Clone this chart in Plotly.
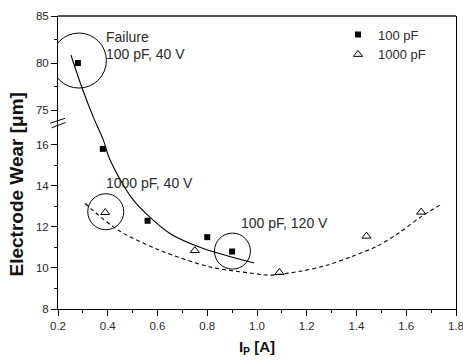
import plotly.graph_objects as go

# ---- data ----
x_100 = [0.28, 0.38, 0.56, 0.80, 0.90]
y_100 = [80.0, 15.8, 12.3, 11.5, 10.8]
x_1000 = [0.39, 0.75, 1.09, 1.44, 1.66]
y_1000 = [12.7, 10.85, 9.78, 11.55, 12.72]

fit_100_x = [0.252, 0.295, 0.342, 0.382, 0.409, 0.503, 0.65, 0.784, 0.989]
fit_100_y = [80.86, 77.48, 74.26, 16.24, 15.27, 13.3, 11.68, 10.95, 10.24]
fit_1000_x = [0.309, 0.442, 0.61, 0.811, 0.989, 1.05, 1.18, 1.28, 1.38, 1.481, 1.57, 1.66, 1.746]
fit_1000_y = [13.14, 11.84, 10.86, 10.05, 9.73, 9.65, 9.85, 10.13, 10.55, 11.05, 11.7, 12.5, 13.14]

x_major = [0.2, 0.4, 0.6, 0.8, 1.0, 1.2, 1.4, 1.6, 1.8]
x_major_labels = ["0.2", "0.4", "0.6", "0.8", "1.0", "1.2", "1.4", "1.6", "1.8"]
x_minor = [0.3, 0.5, 0.7, 0.9, 1.1, 1.3, 1.5, 1.7]
y_major = [8, 10, 12, 14, 16, 75, 80, 85]
y_minor = [9, 11, 13, 15, 77.5, 82.5]
y_major_labels = ["8", "10", "12", "14", "16", "75", "80", "85"]

# ---- broken y-scale ----
BREAK_LO, BREAK_HI, UPPER_SCALE = 17.0, 73.5, 0.4585
Y_MIN, Y_MAX = 8.0, 85.0


def fwd(v):
    return v if v <= BREAK_LO else BREAK_LO + (v - BREAK_HI) * UPPER_SCALE


def fwd_list(vals):
    return [fwd(v) for v in vals]


TXT = "#2a2a2a"
FONT = "Arial, Liberation Sans, sans-serif"
W, H = 463, 363
ML, MR, MT, MB = 58, 7, 16, 54
PW, PH = W - ML - MR, H - MT - MB


def px2paper(px, py):
    return (px - ML) / PW, (H - MB - py) / PH


fig = go.Figure()

fig.add_trace(go.Scatter(x=fit_100_x, y=fwd_list(fit_100_y), mode="lines",
                         line=dict(color="black", width=1.1, shape="spline", smoothing=0.8),
                         showlegend=False, hoverinfo="skip"))
fig.add_trace(go.Scatter(x=fit_1000_x, y=fwd_list(fit_1000_y), mode="lines",
                         line=dict(color="black", width=1.1, dash="4px,3px", shape="spline", smoothing=0.9),
                         showlegend=False, hoverinfo="skip"))
fig.add_trace(go.Scatter(x=x_100, y=fwd_list(y_100), mode="markers", name="100 pF",
                         marker=dict(symbol="square", size=6, color="black")))
fig.add_trace(go.Scatter(x=x_1000, y=fwd_list(y_1000), mode="markers", name="1000 pF",
                         marker=dict(symbol="triangle-up-open", size=8, color="black",
                                     line=dict(width=1, color="black"))))

shapes = []


def circle(xv, yv, r, dx=0.0, dy=0.0):
    return dict(type="circle", xref="x", yref="y", xsizemode="pixel", ysizemode="pixel",
                xanchor=xv, yanchor=fwd(yv), x0=dx - r, x1=dx + r, y0=dy - r, y1=dy + r,
                line=dict(color="black", width=1))


shapes.append(circle(x_100[0], y_100[0], 27.5, 1.0, 2.5))
shapes.append(circle(x_1000[0], y_1000[0], 18, 0.5, 0.8))
shapes.append(circle(x_100[4], y_100[4], 18, 0.3, 0.4))

# top frame line (grey) and axis-break marks
shapes.append(dict(type="line", xref="paper", yref="paper", x0=0, x1=1, y0=1, y1=1,
                   line=dict(color="#555555", width=2)))
for (ax, ay, bx, by) in [(50, 123.3, 65, 118.3), (51.5, 127.8, 65.5, 122.5)]:
    p0 = px2paper(ax, ay)
    p1 = px2paper(bx, by)
    shapes.append(dict(type="line", xref="paper", yref="paper", x0=p0[0], y0=p0[1],
                       x1=p1[0], y1=p1[1], line=dict(color="black", width=1)))

annotations = []


def note(text, px, py, size=14, color=TXT, angle=0, xanchor="left"):
    x, y = px2paper(px, py)
    annotations.append(dict(text=text, xref="paper", yref="paper", x=x, y=y,
                            xanchor=xanchor, yanchor="middle", showarrow=False, textangle=angle,
                            font=dict(family=FONT, size=size, color=color)))


note("Failure", 104, 36.7)
note("100 pF, 40 V", 104, 54.3)
note("1000 pF, 40 V", 104, 183.3)
note("100 pF, 120 V", 239, 223.3)
note("<b>Electrode Wear [μm]</b>", 16, 184.5, size=19, color="#111", angle=-90, xanchor="center")

fig.update_layout(
    width=W, height=H,
    margin=dict(l=ML, r=MR, t=MT, b=MB, autoexpand=False),
    paper_bgcolor="white", plot_bgcolor="white",
    font=dict(family=FONT, color=TXT),
    shapes=shapes, annotations=annotations,
    legend=dict(x=px2paper(338, 0)[0], y=px2paper(0, 19.5)[1], xanchor="left", yanchor="top",
                bgcolor="rgba(0,0,0,0)", font=dict(size=13, color=TXT), tracegroupgap=0,
                itemwidth=30),
    xaxis=dict(range=[0.2, 1.8], tickvals=x_major, ticktext=x_major_labels, automargin=False,
               showgrid=False, zeroline=False, showline=True, linecolor="black", linewidth=1,
               ticks="outside", ticklen=6, tickcolor="black", tickwidth=1,
               tickfont=dict(size=11.5, color=TXT), ticklabeloverflow="allow",
               minor=dict(tickvals=x_minor, ticks="outside", ticklen=3, tickcolor="black", showgrid=False),
               title=dict(text="<b>I<sub>P</sub> [A]</b>", font=dict(size=15, color="#111"), standoff=10),
               mirror=False),
    yaxis=dict(range=[fwd(Y_MIN), fwd(Y_MAX)], tickvals=fwd_list(y_major), ticktext=y_major_labels,
               automargin=False,
               showgrid=False, zeroline=False, showline=True, linecolor="black", linewidth=1,
               ticks="outside", ticklen=6, tickcolor="black", tickwidth=1,
               tickfont=dict(size=11.5, color=TXT),
               minor=dict(tickvals=fwd_list(y_minor), ticks="outside", ticklen=3, tickcolor="black", showgrid=False),
               mirror=True),
)

fig.write_html("out.html")
